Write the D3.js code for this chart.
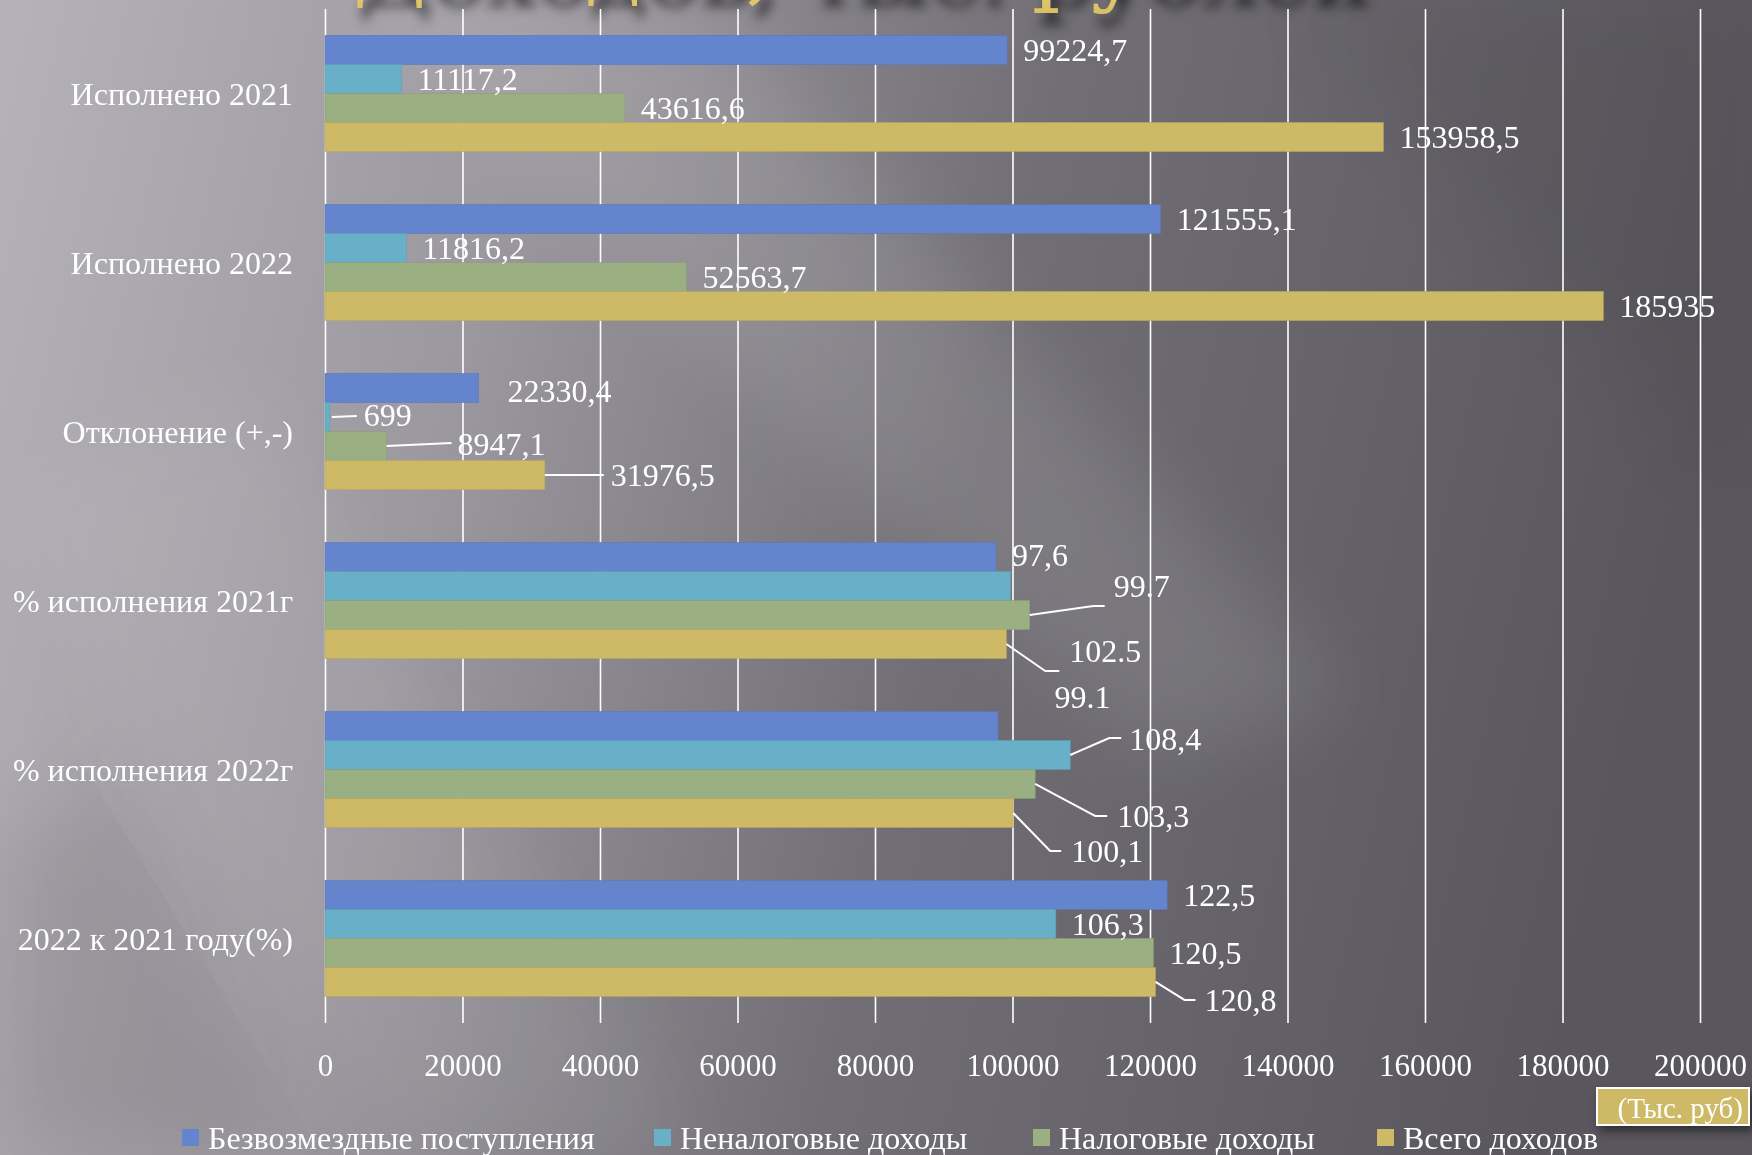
<!DOCTYPE html>
<html>
<head>
<meta charset="utf-8">
<script src="https://cdn.jsdelivr.net/npm/d3@7/dist/d3.min.js"></script>
<style>
  html, body { margin: 0; padding: 0; background: #6e6c72; }
  svg { display: block; }
</style>
</head>
<body>
<div id="chart"></div>
<script>
// ---------------- DATA ----------------
const categories = [
  "Исполнено 2021",
  "Исполнено 2022",
  "Отклонение (+,-)",
  "% исполнения 2021г",
  "% исполнения 2022г",
  "2022 к 2021 году(%)"
];
const seriesNames = [
  "Безвозмездные поступления",
  "Неналоговые доходы",
  "Налоговые доходы",
  "Всего доходов"
];
// bar lengths as read on the horizontal axis
const bezvozmezdnye = [99224.7, 121555.1, 22330.4, 97600, 97900, 122500];
const nenalogovye   = [11117.2, 11816.2, 699, 99700, 108400, 106300];
const nalogovye     = [43616.6, 52563.7, 8947.1, 102500, 103300, 120500];
const vsego         = [153958.5, 185935, 31976.5, 99100, 100100, 120800];
// data-label texts as printed on the chart
const bezvozmezdnyeLabels = ["99224,7", "121555,1", "22330,4", "97,6", "", "122,5"];
const nenalogovyeLabels   = ["11117,2", "11816,2", "699", "99.1", "108,4", "106,3"];
const nalogovyeLabels     = ["43616,6", "52563,7", "8947,1", "99.7", "103,3", "120,5"];
const vsegoLabels         = ["153958,5", "185935", "31976,5", "102.5", "100,1", "120,8"];
const xTicks = [0, 20000, 40000, 60000, 80000, 100000, 120000, 140000, 160000, 180000, 200000];
const titleText = "Доходов, тыс. рублей";
const unitText = "(Тыс. руб)";

// ---------------- STYLE / LAYOUT ----------------
const W = 1752, H = 1155;
const colors = ["#6584ce", "#68b0c8", "#9bb082", "#cdb966"];
const font = "'Liberation Serif', 'Times New Roman', serif";
const plot = { left: 325, right: 1700, top: 9, bottom: 1023 };
const legendX = [182, 654, 1033, 1377];
// label placement tweaks (offset from bar end / bar centre, optional leader line)
const labelLayout = {
  "2-0": { dx: 29, dy: 3 },
  "2-1": { dx: 34, dy: -2, leader: [[2, 0], [27, -1]] },
  "2-2": { dx: 71, dy: -2, leader: [[0, 0], [65, -3]] },
  "2-3": { dx: 66, dy: 0, leader: [[0, 0], [59, 0]] },
  "3-0": { dx: 16, dy: -2 },
  "3-1": { dx: 44, dy: 111 },
  "3-2": { dx: 84, dy: -29, leader: [[0, 0], [64, -9], [75, -9]] },
  "3-3": { dx: 63, dy: 7, leader: [[0, 0], [39, 27], [53, 27]] },
  "4-1": { dx: 59, dy: -16, leader: [[0, 0], [39, -17], [51, -17]] },
  "4-2": { dx: 82, dy: 32, leader: [[0, 0], [60, 32], [72, 32]] },
  "4-3": { dx: 58, dy: 38, leader: [[0, 0], [37, 38], [48, 38]] },
  "5-3": { dx: 49, dy: 18, leader: [[0, 0], [29, 18], [40, 18]] }
};

const seriesValues = [bezvozmezdnye, nenalogovye, nalogovye, vsego];
const seriesLabels = [bezvozmezdnyeLabels, nenalogovyeLabels, nalogovyeLabels, vsegoLabels];

const svg = d3.select("#chart").append("svg")
  .attr("width", W).attr("height", H)
  .attr("viewBox", `0 0 ${W} ${H}`);

// ---------------- BACKGROUND ----------------
const defs = svg.append("defs");
const bg = defs.append("linearGradient").attr("id", "bg")
  .attr("x1", "0").attr("y1", "0").attr("x2", "1").attr("y2", "0.15");
bg.append("stop").attr("offset", "0").attr("stop-color", "#b5b2b9");
bg.append("stop").attr("offset", "0.3").attr("stop-color", "#9b989f");
bg.append("stop").attr("offset", "0.6").attr("stop-color", "#716f75");
bg.append("stop").attr("offset", "1").attr("stop-color", "#59575d");
defs.append("filter").attr("id", "blur40").attr("x", "-50%").attr("y", "-50%").attr("width", "200%").attr("height", "200%")
  .append("feGaussianBlur").attr("stdDeviation", 40);
const ts = defs.append("filter").attr("id", "tshadow").attr("x", "-20%").attr("y", "-50%").attr("width", "140%").attr("height", "250%");
ts.append("feGaussianBlur").attr("in", "SourceAlpha").attr("stdDeviation", 6).attr("result", "b");
ts.append("feOffset").attr("in", "b").attr("dx", 6).attr("dy", 12).attr("result", "o");
ts.append("feFlood").attr("flood-color", "#000").attr("flood-opacity", 0.7);
ts.append("feComposite").attr("in2", "o").attr("operator", "in").attr("result", "s");
const tm = ts.append("feMerge");
tm.append("feMergeNode").attr("in", "s");
tm.append("feMergeNode").attr("in", "SourceGraphic");
const bs = defs.append("filter").attr("id", "bshadow").attr("x", "-30%").attr("y", "-50%").attr("width", "160%").attr("height", "250%");
bs.append("feDropShadow").attr("dx", 4).attr("dy", 5).attr("stdDeviation", 5).attr("flood-color", "#000").attr("flood-opacity", 0.5);
const gold = defs.append("linearGradient").attr("id", "gold").attr("x1", "0").attr("y1", "0").attr("x2", "0").attr("y2", "1");
gold.append("stop").attr("offset", "0").attr("stop-color", "#fff2b0");
gold.append("stop").attr("offset", "1").attr("stop-color", "#d9bf5e");

svg.append("rect").attr("width", W).attr("height", H).attr("fill", "url(#bg)");
// soft diagonal light streaks
const streaks = svg.append("g").attr("filter", "url(#blur40)");
streaks.append("polygon").attr("points", "350,0 700,0 1350,700 1150,760").attr("fill", "#ffffff").attr("opacity", 0.10);
streaks.append("polygon").attr("points", "0,500 250,380 700,1155 400,1155").attr("fill", "#ffffff").attr("opacity", 0.06);
streaks.append("polygon").attr("points", "0,850 120,760 280,1155 0,1155").attr("fill", "#000000").attr("opacity", 0.08);
streaks.append("polygon").attr("points", "1300,0 1752,0 1752,500").attr("fill", "#000000").attr("opacity", 0.05);

// ---------------- TITLE (cut off at top) ----------------
svg.append("text")
  .attr("x", 860).attr("y", -6)
  .attr("text-anchor", "middle")
  .attr("font-family", "'DejaVu Serif', serif")
  .attr("font-size", 90)
  .attr("fill", "url(#gold)")
  .attr("filter", "url(#tshadow)")
  .text(titleText);

// ---------------- SCALES ----------------
const x = d3.scaleLinear().domain([0, 200000]).range([plot.left, plot.right]);
const y = d3.scaleBand().domain(categories).range([plot.top, plot.bottom])
  .paddingInner(0.3136).paddingOuter(0.157);
const ys = d3.scaleBand().domain(d3.range(seriesNames.length)).range([0, y.bandwidth()]);

// gridlines
const xAxis = d3.axisBottom(x).tickValues(xTicks).tickSize(-(plot.bottom - plot.top)).tickFormat(d => d);
const gx = svg.append("g").attr("transform", `translate(0,${plot.bottom})`).call(xAxis);
gx.select(".domain").remove();
gx.selectAll(".tick line").attr("stroke", "#ffffff").attr("stroke-width", 1.6);
gx.selectAll(".tick text")
  .attr("fill", "#ffffff").attr("font-family", font).attr("font-size", 31)
  .attr("y", 42).attr("dy", "0.35em");

// category labels
const yAxis = d3.axisLeft(y).tickSize(0).tickPadding(0);
const gy = svg.append("g").attr("transform", `translate(${plot.left - 32},0)`).call(yAxis);
gy.select(".domain").remove();
gy.selectAll(".tick text")
  .attr("fill", "#ffffff").attr("font-family", font).attr("font-size", 32)
  .attr("dy", "0.35em");

// ---------------- BARS ----------------
const groups = svg.append("g").selectAll("g").data(categories).join("g")
  .attr("transform", d => `translate(0,${y(d)})`);

const barData = (cat, gi) => seriesValues.map((vals, si) => ({ gi, si, v: vals[gi], label: seriesLabels[si][gi] }));

groups.selectAll("rect").data((d, gi) => barData(d, gi)).join("rect")
  .attr("x", x(0))
  .attr("y", d => ys(d.si))
  .attr("width", d => x(d.v) - x(0))
  .attr("height", ys.bandwidth())
  .attr("fill", d => colors[d.si])
  .attr("stroke", d => d3.color(colors[d.si]).darker(0.3))
  .attr("stroke-width", 0.6);

// leader lines
groups.selectAll("polyline").data((d, gi) => barData(d, gi).filter(b => labelLayout[`${b.gi}-${b.si}`] && labelLayout[`${b.gi}-${b.si}`].leader))
  .join("polyline")
  .attr("points", d => {
    const L = labelLayout[`${d.gi}-${d.si}`];
    const x0 = x(d.v), y0 = ys(d.si) + ys.bandwidth() / 2;
    return L.leader.map(p => `${x0 + p[0]},${y0 + p[1]}`).join(" ");
  })
  .attr("fill", "none").attr("stroke", "#ffffff").attr("stroke-width", 2);

// data labels
groups.selectAll("text").data((d, gi) => barData(d, gi).filter(b => b.label !== "")).join("text")
  .attr("x", d => x(d.v) + (labelLayout[`${d.gi}-${d.si}`] ? labelLayout[`${d.gi}-${d.si}`].dx : 16))
  .attr("y", d => ys(d.si) + ys.bandwidth() / 2 + (labelLayout[`${d.gi}-${d.si}`] ? labelLayout[`${d.gi}-${d.si}`].dy : 0))
  .attr("dy", "0.35em")
  .attr("fill", "#ffffff")
  .attr("font-family", font)
  .attr("font-size", 32)
  .text(d => d.label);

// ---------------- LEGEND ----------------
const legend = svg.append("g").attr("transform", "translate(0,1138)");
seriesNames.forEach((name, i) => {
  const g = legend.append("g").attr("transform", `translate(${legendX[i]},0)`);
  g.append("rect").attr("x", 0).attr("y", -9).attr("width", 17).attr("height", 17).attr("fill", colors[i]);
  g.append("text").attr("x", 26).attr("y", 0).attr("dy", "0.35em")
    .attr("fill", "#ffffff").attr("font-family", font).attr("font-size", 32).text(name);
});

// ---------------- UNIT BOX ----------------
const ub = svg.append("g");
ub.append("rect").attr("x", 1597).attr("y", 1088).attr("width", 152).attr("height", 37)
  .attr("fill", "#cdb966").attr("stroke", "#ffffff").attr("stroke-width", 2).attr("filter", "url(#bshadow)");
ub.append("text").attr("x", 1743).attr("y", 1108).attr("dy", "0.35em").attr("text-anchor", "end")
  .attr("fill", "#ffffff").attr("font-family", font).attr("font-size", 29).text(unitText);
</script>
</body>
</html>
